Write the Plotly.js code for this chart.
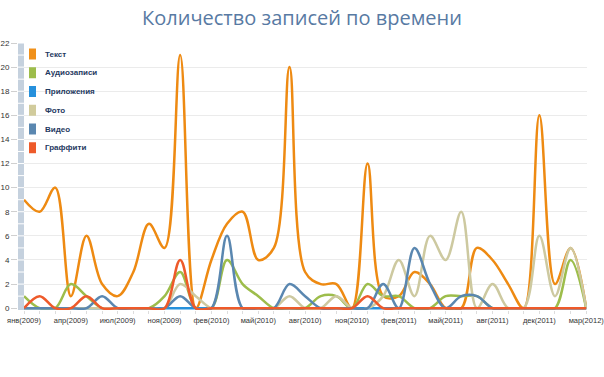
<!DOCTYPE html>
<html>
<head>
<meta charset="utf-8">
<script src="https://cdn.plot.ly/plotly-3.0.1.min.js"></script>
<style>html,body{margin:0;padding:0;background:#fff;}#chart{width:604px;height:377px;}</style>
</head>
<body>
<div id="chart"></div>
<script>
// Categories (months with data)
const months = [
  "янв(2009)","фев(2009)","мар(2009)","апр(2009)","май(2009)","июн(2009)","июл(2009)","авг(2009)","окт(2009)",
  "ноя(2009)","дек(2009)","янв(2010)","фев(2010)","мар(2010)","апр(2010)","май(2010)","июн(2010)","июл(2010)",
  "авг(2010)","сен(2010)","окт(2010)","ноя(2010)","дек(2010)","янв(2011)","фев(2011)","мар(2011)","апр(2011)",
  "май(2011)","июн(2011)","июл(2011)","авг(2011)","сен(2011)","ноя(2011)","дек(2011)","янв(2012)","фев(2012)","мар(2012)"
];
// Tick labels shown on the x axis
const tickLabels = ["янв(2009)","апр(2009)","июл(2009)","ноя(2009)","фев(2010)","май(2010)","авг(2010)",
  "ноя(2010)","фев(2011)","май(2011)","авг(2011)","дек(2011)","мар(2012)"];

const seriesNames = ["Текст","Аудиозаписи","Приложения","Фото","Видео","Граффити"];

const textPosts   = [9,8,10,1,6,2,1,3,7,5,21,0,4,7,8,4,5,20,3,2,2,0,12,1,1,3,2,0,0,5,4,2,0,16,2,5,0];
const audioPosts  = [1,0,0,2,1,0,0,0,0,1,3,0,0,4,2,1,0,0,0,1,1,0,2,1,1,0,0,1,1,1,0,0,0,0,0,4,0];
const appPosts    = [0,0,0,0,0,0,0,0,0,0,0,0,0,0,0,0,0,0,0,0,0,0,0,0,0,0,0,0,0,0,0,0,0,0,0,0,0];
const photoPosts  = [0,0,0,0,0,0,0,0,0,0,2,1,0,0,0,0,0,1,0,0,1,0,0,1,4,1,6,4,8,0,2,0,0,6,1,5,0];
const videoPosts  = [0,0,0,0,0,1,0,0,0,0,1,0,0,6,0,0,0,2,1,0,0,0,0,2,0,5,2,0,1,1,0,0,0,0,0,0,0];
const graffitiPosts = [0,1,0,0,1,0,0,0,0,0,4,0,0,0,0,0,0,0,0,0,0,0,1,0,0,0,0,0,0,0,0,0,0,0,0,0,0];

const yTicks = [0,2,4,6,8,10,12,14,16,18,20,22];

const values = [textPosts, audioPosts, appPosts, photoPosts, videoPosts, graffitiPosts];
const lineColors = ["#ee8a12","#9dbd4b","#2691dc","#cdc9a0","#5a87b0","#ee5a2a"];
const swatchColors = ["#f0901a","#9dbd4b","#2690dc","#d1cb9c","#5a87b0","#ee5a2a"];

const traces = seriesNames.map((n, i) => ({
  type: "scatter", mode: "lines", name: n,
  x: months, y: values[i],
  line: {color: lineColors[i], width: 2.5, shape: "spline", smoothing: 1},
  hoverinfo: "x+y+name", showlegend: false
}));

// Pixel helpers for layout decorations
const PL = 18, PR = 587, PT = 43, PB = 310;
const px = v => (v - PL) / (PR - PL);
const py = v => (PB - v) / (PB - PT);

const shapes = [];
const annotations = [];
// left decorative band
shapes.push({type:"rect", xref:"paper", yref:"paper", x0:0, x1:px(24), y0:0, y1:1,
  fillcolor:"#c5d1de", line:{width:0}, layer:"above"});
// white notches on the band
let path = "";
for (let v = 1; v <= 22; v++) { path += `M0,${v} L${px(24)},${v} `; }
shapes.push({type:"path", xref:"paper", yref:"y", path: path, line:{color:"#ffffff", width:1}, layer:"above"});

// custom legend
const legTop = 54, legStep = 18.75;
seriesNames.forEach((n, i) => {
  const yc = legTop + i * legStep;
  shapes.push({type:"rect", xref:"paper", yref:"paper", x0:px(29), x1:px(36), y0:py(yc+5.5), y1:py(yc-5.5),
    fillcolor: swatchColors[i], line:{width:0}, layer:"above"});
  annotations.push({xref:"paper", yref:"paper", x:px(43), y:py(yc), xanchor:"left", yanchor:"middle",
    text:"<b>"+n+"</b>", showarrow:false, font:{family:"Liberation Sans, Arial, sans-serif", size:8, color:"#1f3a5f"}});
});

const layout = {
  width: 604, height: 377,
  margin: {l: PL, r: 604 - PR, t: PT, b: 377 - PB, pad: 0},
  paper_bgcolor: "#ffffff", plot_bgcolor: "#ffffff",
  title: {text: "Количество записей по времени", x: 0.5, xanchor: "center", y: 0.953, yanchor: "middle",
    font: {family: "Open Sans, sans-serif", size: 20, color: "#587aa3"}},
  xaxis: {type: "category", range: [-0.385, 36.05], showgrid: false, zeroline: false, showline: false,
    tickmode: "array", tickvals: months,
    ticktext: months.map(m => tickLabels.includes(m) ? m : ""),
    ticks: "outside", ticklen: 3, tickcolor: "#dddddd", tickwidth: 1,
    tickangle: 0,
    tickfont: {family: "Liberation Sans, Arial, sans-serif", size: 7.5, color: "#333333"}},
  yaxis: {range: [-0.15, 22], tickmode: "array", tickvals: yTicks, showgrid: true, gridcolor: "#ebebeb", gridwidth: 1,
    zeroline: false, showline: false, ticks: "outside", ticklen: 6, tickcolor: "#d0d0d0",
    tickfont: {family: "Liberation Sans, Arial, sans-serif", size: 8, color: "#333333"}},
  showlegend: false,
  shapes: shapes, annotations: annotations
};

Plotly.newPlot("chart", traces, layout, {displayModeBar: false, staticPlot: true});
</script>
</body>
</html>
